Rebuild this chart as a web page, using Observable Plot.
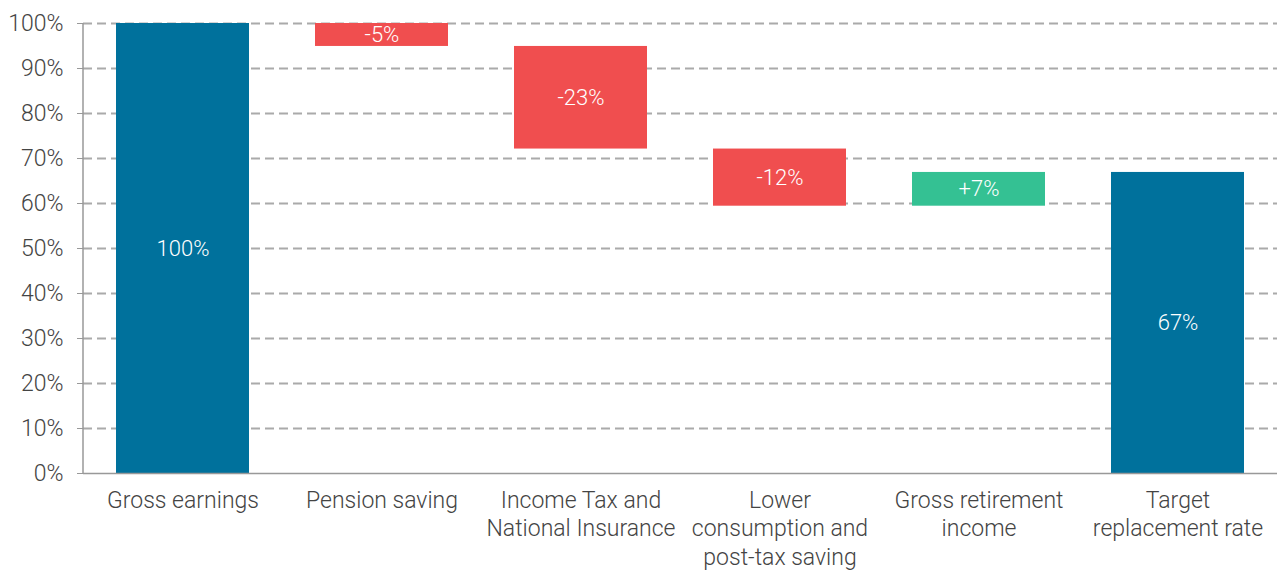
<!DOCTYPE html>
<html>
<head>
<meta charset="utf-8">
<script src="https://cdn.jsdelivr.net/npm/d3@7"></script>
<script src="https://cdn.jsdelivr.net/npm/@observablehq/plot@0.6"></script>
<style>
  html, body { margin: 0; padding: 0; background: #fff; }
  #chart svg { display: block; }
</style>
</head>
<body>
<div id="chart"></div>
<script>
const categories = ["Gross earnings", "Pension saving", "Income Tax and\nNational Insurance", "Lower\nconsumption and\npost-tax saving", "Gross retirement\nincome", "Target\nreplacement rate"];
const starts = [0, 100, 94.9, 72.1, 59.4, 0];
const ends = [100, 94.9, 72.1, 59.4, 66.9, 66.9];
const valueLabels = ["100%", "-5%", "-23%", "-12%", "+7%", "67%"];
const kinds = ["total", "decrease", "decrease", "decrease", "increase", "total"];
const yTicks = [0, 10, 20, 30, 40, 50, 60, 70, 80, 90, 100];

const data = categories.map((c, i) => ({
  cat: c, y1: starts[i], y2: ends[i], label: valueLabels[i], kind: kinds[i],
  mid: (starts[i] + ends[i]) / 2
}));

const font = "Roboto, 'Open Sans', sans-serif";

const chart = Plot.plot({
  width: 1277,
  height: 571,
  marginLeft: 83,
  marginRight: 0,
  marginTop: 23,
  marginBottom: 98,
  style: { fontFamily: font, fontSize: "23px", color: "#444", fontWeight: 300, background: "#fff" },
  x: { domain: categories, paddingInner: 0.33, paddingOuter: 0.165, label: null },
  y: { domain: [0, 100], label: null },
  color: { domain: ["total", "decrease", "increase"], range: ["#00719c", "#f04e4f", "#34c193"] },
  marks: [
    Plot.ruleY(yTicks.filter(d => d > 0), { stroke: "#aaa", strokeWidth: 2, strokeDasharray: "9,5", strokeOpacity: 1 }),
    Plot.barY(data, { x: "cat", y1: "y1", y2: "y2", fill: "kind" }),
    Plot.text(data, { x: "cat", y: "mid", text: "label", fill: "white", fontSize: 22, fontWeight: 300 }),
    Plot.axisY({ ticks: yTicks, tickFormat: d => d + "%", tickSize: 6, tickPadding: 14, stroke: "#999", fontSize: 23, fill: "#444" }),
    Plot.axisX({ tickSize: 0, tickPadding: 14, fontSize: 23, fill: "#444", lineHeight: 1.24 }),
    Plot.ruleY([0], { stroke: "#999", strokeWidth: 1.5 })
  ]
});

// left axis line
const svg = d3.select(chart);
svg.append("line")
  .attr("x1", 83).attr("x2", 83)
  .attr("y1", 23).attr("y2", 473)
  .attr("stroke", "#999").attr("stroke-width", 1.5);

document.getElementById("chart").appendChild(chart);
</script>
</body>
</html>
